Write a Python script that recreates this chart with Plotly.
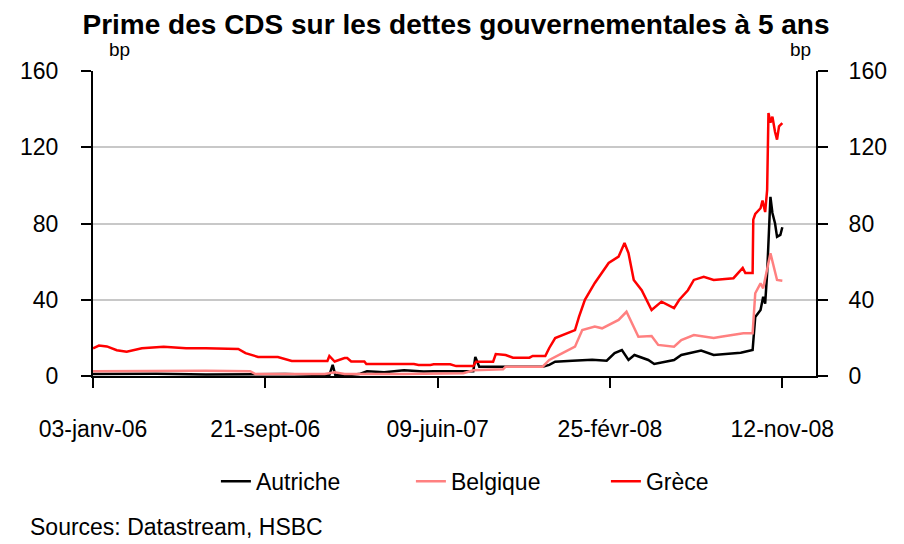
import plotly.graph_objects as go

# ---- data ----
greece_dates = ["2006-01-03","2006-01-12","2006-01-24","2006-02-08","2006-02-23","2006-03-18","2006-04-20",
    "2006-05-24","2006-06-23","2006-08-11","2006-08-22","2006-09-10","2006-10-10","2006-10-31","2006-12-24",
    "2006-12-27","2007-01-04","2007-01-19","2007-01-23","2007-01-29","2007-02-18","2007-02-21","2007-05-04",
    "2007-05-11","2007-05-29","2007-06-03","2007-06-28","2007-07-07","2007-08-02","2007-08-06","2007-09-01",
    "2007-09-05","2007-09-20","2007-09-26","2007-10-01","2007-10-26","2007-10-31","2007-11-19","2007-11-25",
    "2007-12-04","2008-01-03","2008-01-09","2008-01-18","2008-02-02","2008-02-13","2008-02-23","2008-03-09",
    "2008-03-18","2008-03-24","2008-04-01","2008-04-13","2008-04-28","2008-05-13","2008-06-01","2008-06-09",
    "2008-06-22","2008-07-01","2008-07-16","2008-07-31","2008-08-30","2008-09-13","2008-09-17","2008-09-28",
    "2008-09-29","2008-10-02","2008-10-10","2008-10-13","2008-10-17","2008-10-20","2008-10-22","2008-10-25",
    "2008-10-28","2008-11-01","2008-11-04","2008-11-07","2008-11-12"]
greece_values = [14.5,16,15.5,13.5,12.7,14.5,15.4,
    14.5,14.5,14.2,12,10,10,7.9,7.9,
    10.5,7.6,9.4,9.4,7.6,7.6,6.3,6.3,
    5.8,5.8,6.1,6.1,5.2,5.2,7.5,7.5,
    11.5,11,10.1,9.6,9.6,10.5,10.5,14.7,
    19.9,24.1,31,40,48.8,54,59.3,62.6,
    69.8,64.5,50.4,45,34.6,39,35.6,40,
    45,50.4,52,50.4,51.3,56.7,54,54,
    82,85,88,92,86,97.6,138,133,
    136,128,124,131,132.7]

austria_dates = ["2006-01-03","2006-04-09","2006-06-23","2006-10-21","2006-12-20","2006-12-27","2007-01-01",
    "2007-01-05","2007-01-19","2007-02-10","2007-02-22","2007-03-20","2007-04-19","2007-05-19","2007-06-03",
    "2007-08-02","2007-08-05","2007-08-11","2007-09-16","2007-11-15","2007-11-25","2007-12-04","2007-12-30",
    "2008-01-29","2008-02-20","2008-03-03","2008-03-14","2008-03-24","2008-04-02","2008-04-23","2008-05-02",
    "2008-06-01","2008-06-12","2008-07-12","2008-07-31","2008-09-10","2008-09-28","2008-10-02","2008-10-10",
    "2008-10-14","2008-10-17","2008-10-20","2008-10-25","2008-10-28","2008-11-01","2008-11-04","2008-11-09",
    "2008-11-12"]
austria_values = [1,1.2,0.8,1,0.5,0.5,5.8,
    0.5,0.3,1,2.5,2,3,2.3,2.5,
    2.5,10,4.9,4.9,4.9,5.8,7.5,8,
    8.5,8,12,13.6,8.4,11,8.4,6.3,
    8.4,11,13.3,11,12.2,13.6,31,34.6,
    41.6,38,54,94,85.5,80,73,74,
    78]

belgium_dates = ["2006-01-03","2006-04-09","2006-06-23","2006-08-29","2006-09-06","2006-12-20","2007-01-04",
    "2007-01-19","2007-04-19","2007-07-18","2007-08-02","2007-09-16","2007-09-20","2007-11-15","2007-11-25",
    "2007-12-15","2008-01-03","2008-01-14","2008-02-02","2008-02-13","2008-02-28","2008-03-09","2008-03-21",
    "2008-03-29","2008-04-08","2008-04-28","2008-05-08","2008-06-01","2008-06-12","2008-07-01","2008-07-31",
    "2008-08-11","2008-09-14","2008-09-28","2008-10-02","2008-10-10","2008-10-14","2008-10-25","2008-10-29",
    "2008-11-04","2008-11-12"]
belgium_values = [2.5,2.8,2.8,2.5,1,1,2,
    1,1,1.5,3,3.5,4.9,4.9,8.4,
    12,15.4,24.1,25.9,25,27.8,29.4,33.7,
    27.8,20.6,21,16.3,15.4,18.9,21.5,19.9,
    20.6,22.4,22.4,43.4,48.6,46,64.4,59,
    50.4,50]

tick_dates = ["2006-01-03","2006-09-21","2007-06-09","2008-02-25","2008-11-12"]
tick_labels = ["03-janv-06","21-sept-06","09-juin-07","25-févr-08","12-nov-08"]
y_ticks = [0, 40, 80, 120, 160]

FONT = "Liberation Sans, Arial, sans-serif"

fig = go.Figure()
fig.add_trace(go.Scatter(x=austria_dates, y=austria_values, name="Autriche", mode="lines",
                         line=dict(color="#000000", width=2.5)))
fig.add_trace(go.Scatter(x=belgium_dates, y=belgium_values, name="Belgique", mode="lines",
                         line=dict(color="#FF8080", width=2.5)))
fig.add_trace(go.Scatter(x=greece_dates, y=greece_values, name="Grèce", mode="lines",
                         line=dict(color="#FF0000", width=2.5)))
# empty trace to carry the right-hand axis
fig.add_trace(go.Scatter(x=[None], y=[None], yaxis="y2", showlegend=False, hoverinfo="skip"))

# page body has an 8px margin, so the figure is 896x536 placed at (8, 8)
fig.update_layout(
    width=896, height=536,
    margin=dict(l=78, r=88, t=63, b=168),
    paper_bgcolor="white", plot_bgcolor="white",
    font=dict(family=FONT, size=23, color="black"),
    title=dict(text="<b>Prime des CDS sur les dettes gouvernementales à 5 ans</b>",
               x=0.5, xanchor="center", y=0.970, yanchor="middle",
               font=dict(family=FONT, size=28, color="black")),
    xaxis=dict(type="date", range=["2006-01-03", "2009-01-02"],
               tickmode="array", tickvals=tick_dates, ticktext=tick_labels,
               ticks="outside", ticklen=10, tickwidth=2, tickcolor="black",
               showline=True, linecolor="black", linewidth=2,
               showgrid=False, zeroline=False, ticklabelstandoff=21,
               tickfont=dict(size=23)),
    yaxis=dict(range=[0, 160], tickmode="array", tickvals=y_ticks,
               ticks="outside", ticklen=10, tickwidth=2, tickcolor="black",
               showline=True, linecolor="black", linewidth=2,
               showgrid=True, gridcolor="#C8C8C8", gridwidth=2, zeroline=False,
               ticklabelstandoff=18, tickfont=dict(size=23)),
    yaxis2=dict(range=[0, 160], tickmode="array", tickvals=y_ticks,
                overlaying="y", side="right", anchor="x",
                ticks="outside", ticklen=10, tickwidth=2, tickcolor="black",
                showline=True, linecolor="black", linewidth=2,
                showgrid=False, zeroline=False, ticklabelstandoff=16,
                tickfont=dict(size=23)),
    legend=dict(orientation="h", x=0.17, xanchor="left", y=-0.345, yanchor="middle",
                font=dict(size=23), bgcolor="rgba(0,0,0,0)",
                entrywidth=150, entrywidthmode="pixels"),
    showlegend=True,
)

fig.add_annotation(text="bp", xref="paper", yref="paper", x=0.036, y=1.07,
                   xanchor="center", yanchor="middle", showarrow=False, font=dict(size=19))
fig.add_annotation(text="bp", xref="paper", yref="paper", x=0.978, y=1.07,
                   xanchor="center", yanchor="middle", showarrow=False, font=dict(size=19))
fig.add_annotation(text="Sources: Datastream, HSBC", xref="paper", yref="paper",
                   x=-0.09, y=-0.495, xanchor="left", yanchor="middle", showarrow=False,
                   font=dict(size=23))

fig.write_html("out.html")
